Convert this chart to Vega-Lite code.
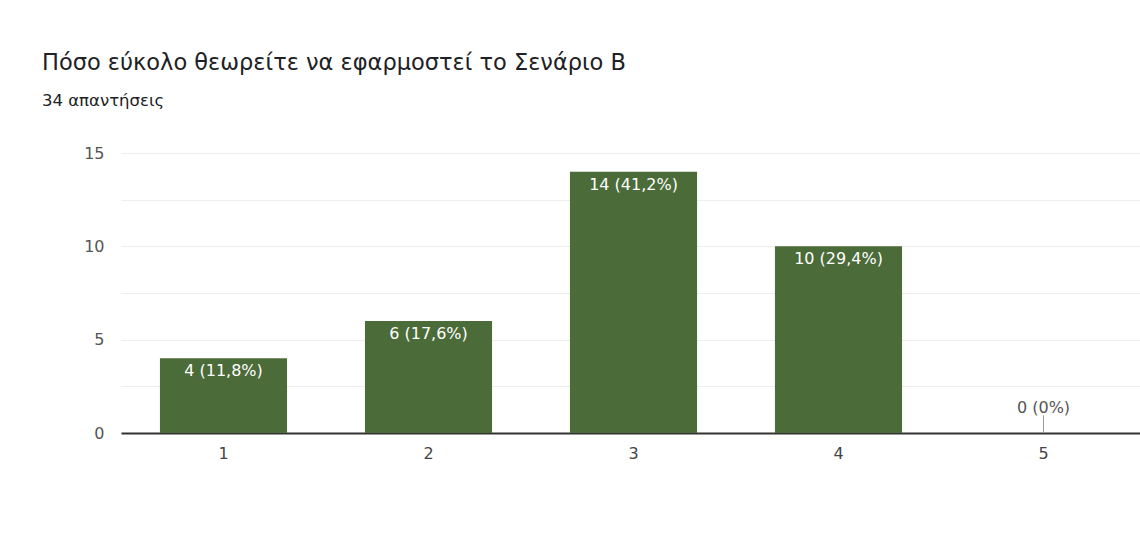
{
  "$schema": "https://vega.github.io/schema/vega-lite/v6.json",
  "autosize": {"type": "none"},
  "width": 1019,
  "height": 280,
  "padding": {"left": 121, "top": 153, "right": 0, "bottom": 109},
  "background": "white",
  "title": {
    "text": "Πόσο εύκολο θεωρείτε να εφαρμοστεί το Σενάριο Β",
    "subtitle": "34 απαντήσεις",
    "anchor": "start",
    "frame": "group",
    "dx": -79,
    "offset": 36,
    "font": "DejaVu Sans",
    "fontSize": 22.5,
    "fontWeight": "normal",
    "color": "#202124",
    "subtitleFont": "DejaVu Sans",
    "subtitleFontSize": 16.5,
    "subtitleColor": "#202124",
    "subtitlePadding": 18
  },
  "data": {
    "values": [
      {"option": "1", "count": 4, "label": "4 (11,8%)"},
      {"option": "2", "count": 6, "label": "6 (17,6%)"},
      {"option": "3", "count": 14, "label": "14 (41,2%)"},
      {"option": "4", "count": 10, "label": "10 (29,4%)"},
      {"option": "5", "count": 0, "label": "0 (0%)"}
    ]
  },
  "encoding": {
    "x": {
      "field": "option",
      "type": "nominal",
      "sort": null,
      "scale": {"range": [0, 1025], "paddingInner": 0.38, "paddingOuter": 0.19},
      "axis": {
        "title": null,
        "labelAngle": 0,
        "ticks": false,
        "domainColor": "#333333",
        "domainWidth": 2,
        "labelPadding": 12,
        "labelFont": "DejaVu Sans",
        "labelFontSize": 16,
        "labelColor": "#444444",
        "grid": false
      }
    }
  },
  "layer": [
    {
      "mark": {"type": "bar", "color": "#4b6b39"},
      "encoding": {
        "y": {
          "field": "count",
          "type": "quantitative",
          "scale": {"domain": [0, 15], "nice": false},
          "axis": {
            "title": null,
            "values": [0, 2.5, 5, 7.5, 10, 12.5, 15],
            "labelExpr": "datum.value % 5 == 0 ? datum.label : ''",
            "domain": false,
            "ticks": false,
            "labelPadding": 17,
            "labelFont": "DejaVu Sans",
            "labelFontSize": 16,
            "labelColor": "#555555",
            "gridColor": "#eeeeee",
            "gridWidth": 1
          }
        }
      }
    },
    {
      "transform": [{"filter": "datum.count > 0"}],
      "mark": {"type": "text", "baseline": "top", "dy": 5, "font": "DejaVu Sans", "fontSize": 16, "color": "#ffffff"},
      "encoding": {
        "y": {"field": "count", "type": "quantitative"},
        "text": {"field": "label"}
      }
    },
    {
      "transform": [{"filter": "datum.count == 0"}],
      "mark": {"type": "rule", "color": "#999999", "strokeWidth": 1},
      "encoding": {
        "y": {"field": "count", "type": "quantitative"},
        "y2": {"datum": 0.95}
      }
    },
    {
      "transform": [{"filter": "datum.count == 0"}],
      "mark": {"type": "text", "baseline": "bottom", "dy": -17, "font": "DejaVu Sans", "fontSize": 16, "color": "#555555"},
      "encoding": {
        "y": {"field": "count", "type": "quantitative"},
        "text": {"field": "label"}
      }
    }
  ],
  "config": {"view": {"stroke": null}}
}
